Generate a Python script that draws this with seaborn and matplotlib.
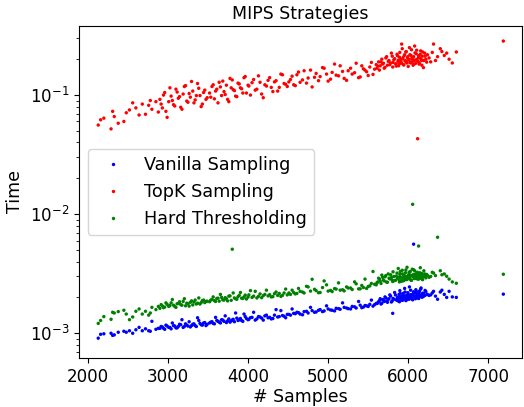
import numpy as np
import pandas as pd
import matplotlib
matplotlib.use("Agg")
import matplotlib.pyplot as plt
import seaborn as sns

# "# Samples" values of the runs (batch A and batch B)
samples_a = [
    2130, 2160, 2290, 2310, 2330, 2450, 2480, 2560, 2600, 2680, 2720, 2760, 2800, 2850,
    2900, 2930, 2960, 2990, 3010, 3040, 3070, 3100, 3130, 3160, 3190, 3220, 3250, 3280,
    3310, 3340, 3370, 3400, 3430, 3460, 3490,
    3520, 3550, 3580, 3610, 3640, 3670, 3700, 3730, 3760, 3790, 3803, 3830, 3860, 3890,
    3920, 3950, 3980, 4010, 4050, 4090, 4130, 4170, 4210, 4250, 4290, 4330, 4370, 4410,
    4450, 4490,
    4530, 4570, 4610, 4650, 4700, 4750, 4800, 4850, 4900, 4950, 5000, 5050, 5100, 5150,
    5200, 5250, 5300, 5350, 5400, 5440, 5480, 5520, 5560, 5600,
    5620, 5640, 5660, 5680, 5700, 5720, 5740, 5760, 5780, 5800, 5806, 5820, 5840, 5860,
    5870, 5880, 5890, 5900, 5910, 5918, 5930, 5940, 5950, 5960, 5970, 5980, 5990, 6000,
    6010, 6020, 6030, 6040, 6050, 6055, 6060, 6067, 6075, 6080, 6090, 6100, 6110, 6117,
    6125, 6129, 6135, 6145, 6155, 6165, 6175, 6190, 6205, 6220, 6240,
    6280, 6316, 6366, 6420, 6480, 6550, 6600, 7187,
]
samples_b = [
    2200, 2380, 2520, 2640, 2780, 2880,
    2915, 2945, 2975, 3025, 3055, 3085, 3115, 3145, 3175, 3205, 3235, 3265, 3295, 3325,
    3355, 3385, 3415, 3445, 3475,
    3535, 3565, 3595, 3625, 3655, 3685, 3715, 3745, 3775, 3815, 3845, 3875, 3905, 3935,
    3965, 4000, 4030, 4070, 4110, 4150, 4190, 4230, 4270, 4310, 4350, 4390, 4430, 4470,
    4510, 4550, 4590, 4630, 4680, 4730, 4780, 4830, 4880, 4930, 4980, 5030, 5080, 5130,
    5180, 5230, 5280, 5330, 5380, 5420, 5460, 5500, 5540, 5580,
    5610, 5630, 5650, 5670, 5690, 5710, 5730, 5750, 5770, 5790, 5810, 5830, 5850, 5865,
    5875, 5885, 5895, 5905, 5915, 5925, 5935, 5945, 5955, 5965, 5975, 5985, 5995, 6005,
    6015, 6025, 6035, 6045, 6065, 6085, 6095, 6105, 6115, 6130, 6140, 6150, 6160, 6170,
    6180, 6195, 6210, 6230,
    6260, 6300, 6340, 6400, 6450, 6510,
]

# Time (milliseconds) per strategy
vanilla_ms_a = [
    0.91, 0.98, 1.00, 0.96, 0.97, 1.04, 1.02, 1.00, 1.07, 1.05, 1.09, 1.05, 1.26, 1.08,
    1.10, 1.13, 1.08, 1.15, 1.12, 1.09, 1.16, 1.11, 1.14, 1.18, 1.12, 1.20, 1.15, 1.13,
    1.19, 1.16, 1.35, 1.21, 1.17, 1.23, 1.19,
    1.22, 1.25, 1.20, 1.28, 1.24, 1.30, 1.26, 1.23, 1.32, 1.27, 1.29, 1.25, 1.34, 1.30,
    1.28, 1.45, 1.33, 1.31, 1.36, 1.29, 1.38, 1.34, 1.40, 1.35, 1.32, 1.42, 1.37, 1.55,
    1.39, 1.44,
    1.42, 1.47, 1.50, 1.45, 1.52, 1.48, 1.55, 1.51, 1.58, 1.54, 1.60, 1.56, 1.62, 1.59,
    1.65, 1.61, 1.68, 1.63, 1.72, 1.66, 1.70, 1.75, 1.69, 1.78,
    1.80, 1.88, 1.76, 1.92, 1.85, 1.98, 1.82, 1.95, 2.05, 1.87, 1.47, 1.93, 2.10, 1.89,
    1.97, 2.02, 1.84, 2.15, 1.94, 2.00, 1.90, 2.08, 1.96, 2.22, 1.88, 2.04, 1.99, 2.12,
    1.93, 2.06, 2.30, 1.98, 2.09, 1.91, 2.14, 5.60, 2.03, 2.18, 1.95, 2.25, 2.07, 2.00,
    2.13, 1.96, 2.20, 2.05, 2.35, 2.10, 2.01, 2.16, 2.08, 2.24, 2.12,
    2.10, 2.25, 1.93, 2.30, 2.00, 2.02, 2.00, 2.13,
]
vanilla_ms_b = [
    0.99, 1.02, 1.05, 1.12, 1.04, 1.10,
    1.14, 1.10, 1.17, 1.12, 1.22, 1.15, 1.11, 1.19, 1.30, 1.14, 1.17, 1.25, 1.16, 1.20,
    1.14, 1.28, 1.18, 1.22, 1.16,
    1.24, 1.21, 1.36, 1.26, 1.22, 1.29, 1.40, 1.27, 1.24, 1.31, 1.48, 1.28, 1.33, 1.26,
    1.38, 1.30, 1.35, 1.50, 1.32, 1.37, 1.29, 1.42, 1.36, 1.33, 1.58, 1.38, 1.41, 1.35,
    1.44, 1.60, 1.46, 1.49, 1.43, 1.53, 1.65, 1.50, 1.56, 1.52, 1.70, 1.57, 1.54, 1.61,
    1.80, 1.63, 1.60, 1.67, 1.85, 1.64, 1.71, 1.68, 1.90, 1.74,
    1.78, 1.84, 1.95, 1.79, 1.90, 2.02, 1.86, 1.93, 2.10, 1.83, 1.96, 2.20, 1.91, 2.00,
    1.87, 2.12, 2.28, 1.95, 2.04, 1.89, 2.16, 2.01, 2.38, 1.97, 2.07, 1.92, 2.19, 2.03,
    2.45, 1.99, 2.11, 1.94, 2.23, 2.06, 2.32, 2.00, 2.14, 1.97, 2.26, 2.09, 2.40, 2.02,
    2.17, 2.05, 2.29, 2.11,
    2.08, 2.18, 2.05, 2.22, 2.12, 2.25,
]
topk_ms_a = [
    56, 62, 52, 73, 66, 60, 71, 86, 78, 84, 69, 82, 76, 88,
    92, 78, 105, 65, 88, 98, 83, 112, 94, 79, 102, 120, 87, 96,
    108, 91, 125, 99, 84, 110, 95,
    104, 118, 93, 112, 128, 99, 107, 121, 88, 115, 134, 109, 97, 124,
    113, 140, 104, 119, 127, 110, 145, 102, 122, 133, 116, 129, 108, 150,
    125, 118,
    135, 122, 148, 128, 160, 139, 117, 152, 143, 168, 131, 155, 147, 176,
    138, 160, 150, 185, 142, 166, 157, 172, 149, 180,
    175, 162, 190, 182, 168, 205, 178, 195, 186, 212, 172, 198, 183, 220,
    190, 176, 208, 195, 185, 268, 201, 180, 215, 193, 230, 188, 205, 174,
    198, 218, 186, 240, 202, 192, 178, 210, 196, 258, 184, 222, 200, 43,
    190, 214, 182, 205, 235, 195, 212, 170, 225, 200, 218,
    190, 268, 210, 232, 225, 186, 230, 284,
]
topk_ms_b = [
    64, 58, 75, 68, 90, 72,
    84, 100, 73, 115, 90, 81, 106, 97, 76, 118, 89, 103, 130, 86,
    99, 114, 80, 105, 92,
    96, 122, 108, 86, 117, 131, 101, 92, 138, 111, 98, 126, 115, 104,
    143, 121, 100, 135, 112, 128, 95, 119, 140, 107, 132, 116, 148, 123,
    129, 144, 120, 156, 134, 126, 162, 141, 132, 170, 150, 136, 182, 145,
    158, 133, 168, 154, 140, 176, 162, 146, 188, 165,
    168, 190, 176, 200, 185, 171, 210, 192, 180, 225, 188, 202, 175, 214,
    196, 183, 228, 199, 187, 245, 206, 179, 218, 194, 232, 186, 210, 198,
    250, 189, 215, 203, 181, 226, 197, 238, 192, 208, 185, 220, 201, 178,
    230, 195, 212, 189,
    205, 228, 195, 245, 215, 200,
]
hard_ms_a = [
    1.21, 1.28, 1.31, 1.50, 1.48, 1.56, 1.45, 1.37, 1.53, 1.45, 1.53, 1.42, 1.65, 1.58,
    1.62, 1.70, 1.66, 1.75, 1.68, 1.80, 1.72, 1.65, 1.78, 1.74, 1.85, 1.70, 1.77, 1.82,
    1.73, 1.90, 1.79, 1.76, 1.88, 1.81, 1.86,
    1.84, 1.92, 1.88, 1.96, 1.86, 2.00, 1.90, 1.95, 2.05, 1.89, 5.08, 1.98, 1.93, 2.08,
    1.97, 2.02, 1.94, 2.10, 2.00, 2.25, 2.04, 1.99, 2.12, 2.06, 2.02, 2.15, 2.08, 2.04,
    2.18, 2.10,
    2.12, 2.20, 2.16, 2.25, 2.18, 2.45, 2.84, 2.28, 2.20, 2.75, 2.26, 2.24, 2.35, 2.30,
    2.27, 2.40, 2.33, 2.60, 2.36, 2.42, 2.38, 2.50, 3.30, 2.55,
    2.70, 2.85, 2.62, 2.95, 2.75, 3.05, 2.68, 2.90, 3.10, 2.80, 2.72, 3.00, 2.78, 3.20,
    2.88, 2.95, 2.70, 3.30, 2.92, 2.84, 3.15, 2.76, 3.05, 2.90, 3.40, 2.82, 3.00, 2.95,
    3.25, 2.86, 3.08, 2.78, 3.45, 12.1, 2.98, 3.12, 2.88, 3.35, 3.02, 2.92, 3.18, 2.85,
    3.05, 5.40, 2.96, 3.22, 2.90, 3.10, 2.84, 3.00, 3.15, 2.92, 3.05,
    3.00, 3.20, 6.40, 3.10, 3.01, 2.70, 2.63, 3.13,
]
hard_ms_b = [
    1.38, 1.52, 1.30, 1.60, 1.48, 1.68,
    1.74, 1.64, 1.80, 1.71, 1.92, 1.68, 1.77, 1.84, 1.72, 1.95, 1.79, 1.69, 1.87, 1.83,
    1.76, 1.98, 1.81, 1.90, 1.85,
    1.90, 2.02, 1.85, 1.97, 2.12, 1.91, 1.99, 1.87, 2.06, 2.18, 1.95, 2.03, 2.20, 1.96,
    2.09, 2.01, 2.28, 2.05, 1.98, 2.14, 2.07, 2.30, 2.11, 2.03, 2.22, 2.16, 2.08, 2.35,
    2.18, 2.30, 2.14, 2.38, 2.22, 2.48, 2.26, 2.34, 2.19, 2.42, 2.55, 2.29, 2.37, 2.65,
    2.32, 2.45, 2.40, 2.70, 2.36, 2.52, 2.85, 2.47, 2.62, 2.58,
    2.66, 2.90, 2.74, 3.08, 2.80, 2.98, 2.69, 3.15, 2.86, 2.94, 3.28, 2.77, 3.02, 2.88,
    3.50, 2.83, 3.12, 2.96, 2.73, 3.38, 2.91, 3.05, 2.81, 3.22, 2.99, 3.58, 2.87, 3.10,
    2.93, 3.30, 2.79, 3.04, 3.42, 2.89, 3.16, 2.97, 3.25, 2.85, 3.07, 3.55, 2.94, 3.18,
    2.82, 3.35, 3.01, 3.12,
    2.95, 3.25, 3.05, 3.35, 3.15, 2.85,
]

labels = ["Vanilla Sampling", "TopK Sampling", "Hard Thresholding"]
colors = {"Vanilla Sampling": "#0000ff", "TopK Sampling": "#ff0000",
          "Hard Thresholding": "#008000"}

samples = samples_a + samples_b
series = [vanilla_ms_a + vanilla_ms_b, topk_ms_a + topk_ms_b, hard_ms_a + hard_ms_b]
for s in series:
    if len(s) != len(samples):
        raise ValueError(f"length mismatch {len(s)} vs {len(samples)}")

frames = []
for lab, vals in zip(labels, series):
    frames.append(pd.DataFrame({"samples": samples,
                                "time": np.array(vals) / 1000.0,
                                "strategy": lab}))
df = pd.concat(frames, ignore_index=True)

fig = plt.figure(figsize=(5.24, 4.07), dpi=100)
ax = fig.add_axes([79/524, 1 - 358/407, (522 - 79)/524, (358 - 26)/407])
sns.scatterplot(data=df, x="samples", y="time", hue="strategy",
                hue_order=labels, palette=colors, s=6, linewidth=0, ax=ax)
ax.set_yscale("log")
ax.set_xlim(1890, 7420)
ax.set_ylim(6.2e-4, 0.38)
ax.set_xticks([2000, 3000, 4000, 5000, 6000, 7000])
ax.tick_params(labelsize=12)
ax.set_xlabel("# Samples", fontsize=12.5, labelpad=2)
ax.set_ylabel("Time", fontsize=12.5)
ax.set_title("MIPS Strategies", fontsize=12.5, pad=5)
h, l = ax.get_legend_handles_labels()
ax.legend(h, l, loc="center left", fontsize=12.7, markerscale=1)

fig.savefig("out.png", dpi=100)
